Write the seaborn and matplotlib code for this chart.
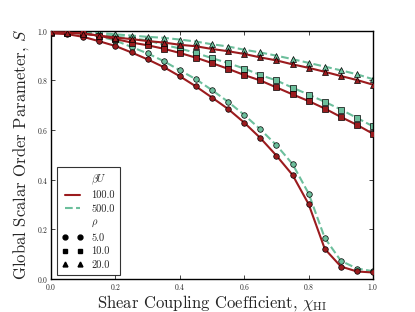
import matplotlib
matplotlib.use("Agg")
import matplotlib.pyplot as plt
import seaborn as sns
import pandas as pd
from matplotlib.lines import Line2D

chi = [0.0, 0.05, 0.1, 0.15, 0.2, 0.25, 0.3, 0.35, 0.4, 0.45, 0.5,
       0.55, 0.6, 0.65, 0.7, 0.75, 0.8, 0.85, 0.9, 0.95, 1.0]

# rho = 5
s_r5_u100 = [0.99, 0.987, 0.976, 0.958, 0.939, 0.913, 0.885, 0.854, 0.817, 0.776, 0.731,
             0.685, 0.630, 0.568, 0.497, 0.419, 0.301, 0.121, 0.050, 0.030, 0.026]
s_r5_u500 = [0.995, 0.993, 0.989, 0.978, 0.961, 0.935, 0.909, 0.878, 0.841, 0.805, 0.761,
             0.714, 0.661, 0.603, 0.539, 0.463, 0.344, 0.165, 0.073, 0.042, 0.031]
# rho = 10
s_r10_u100 = [0.993, 0.992, 0.990, 0.980, 0.967, 0.953, 0.942, 0.928, 0.911, 0.892, 0.870,
              0.847, 0.822, 0.800, 0.772, 0.744, 0.717, 0.687, 0.653, 0.621, 0.585]
s_r10_u500 = [0.995, 0.995, 0.993, 0.986, 0.977, 0.970, 0.962, 0.944, 0.929, 0.911, 0.890,
              0.870, 0.848, 0.822, 0.800, 0.771, 0.743, 0.714, 0.683, 0.649, 0.615]
# rho = 20
s_r20_u100 = [0.994, 0.993, 0.989, 0.981, 0.973, 0.967, 0.959, 0.953, 0.944, 0.938, 0.927,
              0.918, 0.907, 0.893, 0.881, 0.865, 0.851, 0.835, 0.818, 0.802, 0.783]
s_r20_u500 = [0.996, 0.995, 0.994, 0.992, 0.986, 0.981, 0.976, 0.972, 0.965, 0.957, 0.946,
              0.937, 0.924, 0.913, 0.900, 0.886, 0.871, 0.856, 0.841, 0.825, 0.805]

rhos = ["5.0", "10.0", "20.0"]
betaU = ["100.0", "500.0"]
series = {
    ("5.0", "100.0"): s_r5_u100, ("5.0", "500.0"): s_r5_u500,
    ("10.0", "100.0"): s_r10_u100, ("10.0", "500.0"): s_r10_u500,
    ("20.0", "100.0"): s_r20_u100, ("20.0", "500.0"): s_r20_u500,
}

rows = []
for (r, u), vals in series.items():
    for x, s in zip(chi, vals):
        rows.append({"chi": x, "S": s, "rho": r, "bU": u})
df = pd.DataFrame(rows)

sns.set_style("ticks")
plt.rcParams["font.family"] = ["cmr10", "DejaVu Serif"]
plt.rcParams["mathtext.fontset"] = "cm"
plt.rcParams["axes.formatter.use_mathtext"] = True
plt.rcParams["xtick.direction"] = "in"
plt.rcParams["ytick.direction"] = "in"

colors = {"100.0": "#9b1b1e", "500.0": "#6cbf9c"}
styles = {"100.0": "-", "500.0": "--"}
markers = {"5.0": "o", "10.0": "s", "20.0": "^"}

fig = plt.figure(figsize=(4.15, 3.12), dpi=100)
ax = fig.add_axes([0.123, 0.106, 0.776, 0.795])

for r in rhos:
    for u in betaU:
        sub = df[(df.rho == r) & (df.bU == u)]
        sns.lineplot(data=sub, x="chi", y="S", ax=ax, color=colors[u],
                     linestyle=styles[u], linewidth=1.5, marker=markers[r],
                     markersize=4, markeredgecolor="black", markeredgewidth=0.5,
                     legend=False, zorder=3 if u == "100.0" else 2)

ax.set_xlim(0, 1)
ax.set_ylim(0, 1)
ax.set_xticks([0.0, 0.2, 0.4, 0.6, 0.8, 1.0])
ax.set_yticks([0.0, 0.2, 0.4, 0.6, 0.8, 1.0])
ax.tick_params(labelsize=5.5, length=3, width=0.6, top=True, right=True, pad=2)
for sp in ax.spines.values():
    sp.set_linewidth(1.0)
    sp.set_color("black")
    sp.set_visible(True)

ax.set_xlabel(r"Shear Coupling Coefficient, $\chi_{\rm HI}$", fontsize=12, labelpad=1)
ax.set_ylabel(r"Global Scalar Order Parameter, $S$", fontsize=12, labelpad=4)

blank = Line2D([], [], linestyle="none", marker=None)
handles = [blank,
           Line2D([], [], color=colors["100.0"], linestyle="-", linewidth=1.5),
           Line2D([], [], color=colors["500.0"], linestyle="--", linewidth=1.5),
           blank]
labels = [r"$\beta U$", "100.0", "500.0", r"$\rho$"]
for r in rhos:
    handles.append(Line2D([], [], color="black", linestyle="none",
                          marker=markers[r], markersize=3.5))
    labels.append(r)
leg = ax.legend(handles, labels, loc="lower left", bbox_to_anchor=(0.012, 0.008),
                fontsize=7.5, numpoints=2, frameon=True, fancybox=False,
                handlelength=2.0, labelspacing=0.38, borderaxespad=0.2,
                borderpad=0.5)
leg.get_frame().set_edgecolor("black")
leg.get_frame().set_linewidth(0.8)

fig.savefig("out.png", dpi=100)
